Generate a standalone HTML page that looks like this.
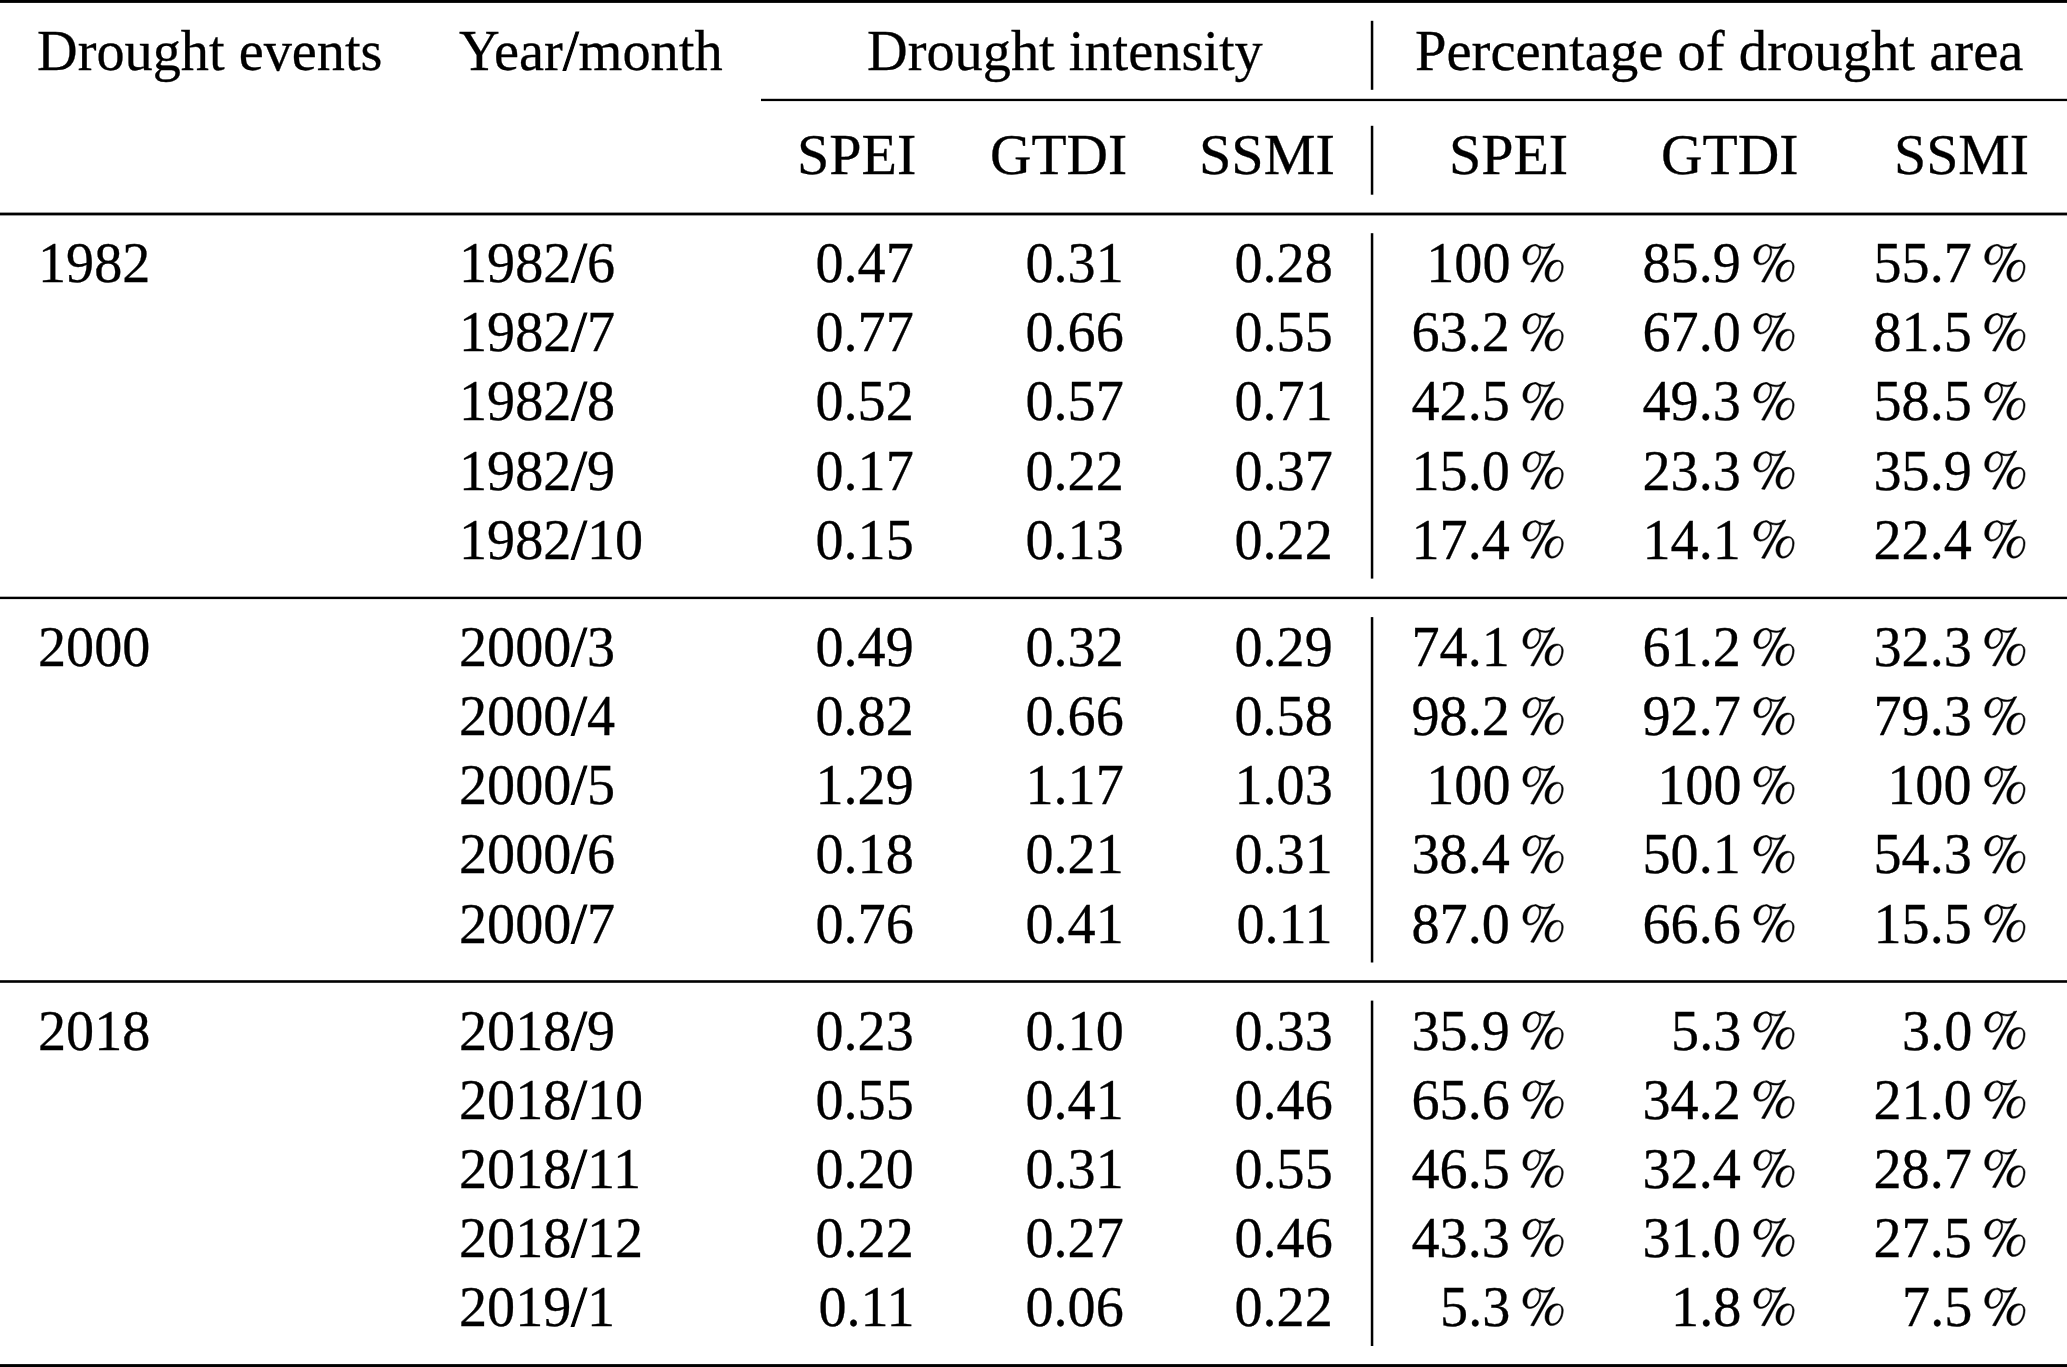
<!DOCTYPE html>
<html><head><meta charset="utf-8"><style>
html,body{margin:0;padding:0;background:#fff;}
#pg{position:relative;width:2067px;height:1367px;overflow:hidden;background:#fff;}
.t{position:absolute;font-family:"Liberation Serif",serif;font-size:57px;line-height:0;height:0;white-space:nowrap;color:#000;transform-origin:0 0;-webkit-text-stroke:0.3px #000;}
.r{text-align:right;transform-origin:100% 0;}
.sl{-webkit-text-stroke:1.1px #000;}

svg{position:absolute;left:0;top:0;}
</style></head><body><div id="pg">
<svg width="2067" height="1367" viewBox="0 0 2067 1367"><defs><path id="pc" stroke="#000" stroke-width="14" stroke-linejoin="round" d="M490,130C578,130 650,220 650,330C650,539 506,710 330,710C226,710 140,611 140,490C140,292 298,130 490,130ZM490,168C361,168 255,326 255,520C255,601 296,668 345,668C492,668 612,511 612,320C612,236 557,168 490,168ZM1110,575C1209,575 1290,658 1290,760C1290,999 1142,1195 960,1195C856,1195 770,1085 770,950C770,744 923,575 1110,575ZM1160,612C1006,612 880,782 880,990C880,1075 923,1145 975,1145C1124,1145 1245,972 1245,760C1245,679 1207,612 1160,612ZM965,118L1050,112L450,1205L362,1192ZM480,128C570,135 610,200 780,205C880,205 960,160 1050,110L1000,155C940,210 880,245 780,248C640,248 590,205 520,172Z"/></defs><g fill="#000">
<use href="#pc" transform="translate(1517.98,239.90) scale(0.03511)"/>
<use href="#pc" transform="translate(1748.88,239.90) scale(0.03511)"/>
<use href="#pc" transform="translate(1979.78,239.90) scale(0.03511)"/>
<use href="#pc" transform="translate(1517.98,308.98) scale(0.03511)"/>
<use href="#pc" transform="translate(1748.88,308.98) scale(0.03511)"/>
<use href="#pc" transform="translate(1979.78,308.98) scale(0.03511)"/>
<use href="#pc" transform="translate(1517.98,378.06) scale(0.03511)"/>
<use href="#pc" transform="translate(1748.88,378.06) scale(0.03511)"/>
<use href="#pc" transform="translate(1979.78,378.06) scale(0.03511)"/>
<use href="#pc" transform="translate(1517.98,447.14) scale(0.03511)"/>
<use href="#pc" transform="translate(1748.88,447.14) scale(0.03511)"/>
<use href="#pc" transform="translate(1979.78,447.14) scale(0.03511)"/>
<use href="#pc" transform="translate(1517.98,516.22) scale(0.03511)"/>
<use href="#pc" transform="translate(1748.88,516.22) scale(0.03511)"/>
<use href="#pc" transform="translate(1979.78,516.22) scale(0.03511)"/>
<rect x="1370.8" y="233.2" width="2.5" height="345.4"/>
<use href="#pc" transform="translate(1517.98,623.80) scale(0.03511)"/>
<use href="#pc" transform="translate(1748.88,623.80) scale(0.03511)"/>
<use href="#pc" transform="translate(1979.78,623.80) scale(0.03511)"/>
<use href="#pc" transform="translate(1517.98,692.88) scale(0.03511)"/>
<use href="#pc" transform="translate(1748.88,692.88) scale(0.03511)"/>
<use href="#pc" transform="translate(1979.78,692.88) scale(0.03511)"/>
<use href="#pc" transform="translate(1517.98,761.96) scale(0.03511)"/>
<use href="#pc" transform="translate(1748.88,761.96) scale(0.03511)"/>
<use href="#pc" transform="translate(1979.78,761.96) scale(0.03511)"/>
<use href="#pc" transform="translate(1517.98,831.04) scale(0.03511)"/>
<use href="#pc" transform="translate(1748.88,831.04) scale(0.03511)"/>
<use href="#pc" transform="translate(1979.78,831.04) scale(0.03511)"/>
<use href="#pc" transform="translate(1517.98,900.12) scale(0.03511)"/>
<use href="#pc" transform="translate(1748.88,900.12) scale(0.03511)"/>
<use href="#pc" transform="translate(1979.78,900.12) scale(0.03511)"/>
<rect x="1370.8" y="617.1" width="2.5" height="345.4"/>
<use href="#pc" transform="translate(1517.98,1007.30) scale(0.03511)"/>
<use href="#pc" transform="translate(1748.88,1007.30) scale(0.03511)"/>
<use href="#pc" transform="translate(1979.78,1007.30) scale(0.03511)"/>
<use href="#pc" transform="translate(1517.98,1076.38) scale(0.03511)"/>
<use href="#pc" transform="translate(1748.88,1076.38) scale(0.03511)"/>
<use href="#pc" transform="translate(1979.78,1076.38) scale(0.03511)"/>
<use href="#pc" transform="translate(1517.98,1145.46) scale(0.03511)"/>
<use href="#pc" transform="translate(1748.88,1145.46) scale(0.03511)"/>
<use href="#pc" transform="translate(1979.78,1145.46) scale(0.03511)"/>
<use href="#pc" transform="translate(1517.98,1214.54) scale(0.03511)"/>
<use href="#pc" transform="translate(1748.88,1214.54) scale(0.03511)"/>
<use href="#pc" transform="translate(1979.78,1214.54) scale(0.03511)"/>
<use href="#pc" transform="translate(1517.98,1283.62) scale(0.03511)"/>
<use href="#pc" transform="translate(1748.88,1283.62) scale(0.03511)"/>
<use href="#pc" transform="translate(1979.78,1283.62) scale(0.03511)"/>
<rect x="1370.8" y="1000.6" width="2.5" height="345.4"/>
<rect x="0" y="0" width="2067" height="2.9"/>
<rect x="1370.8" y="20.8" width="2.5" height="69.0"/>
<rect x="761" y="98.8" width="1306" height="2.3"/>
<rect x="1370.8" y="125.8" width="2.5" height="68.9"/>
<rect x="0" y="212.6" width="2067" height="2.8"/>
<rect x="0" y="596.7" width="2067" height="2.4"/>
<rect x="0" y="980.2" width="2067" height="2.6"/>
<rect x="0" y="1364.1" width="2067" height="2.9"/>
</g></svg>
<div class="t" style="left:37.42px;top:50.90px;transform:scaleX(0.9876)">Drought events</div>
<div class="t" style="left:459.20px;top:50.90px;transform:scaleX(0.9891)">Year<span class="sl">/</span>month</div>
<div class="t" style="left:867.01px;top:50.90px;transform:scaleX(0.9880)">Drought intensity</div>
<div class="t" style="left:1414.81px;top:50.90px;transform:scaleX(0.9934)">Percentage of drought area</div>
<div class="t" style="left:797.34px;top:155.00px;transform:scaleX(1.0179)">SPEI</div>
<div class="t" style="left:989.58px;top:155.00px;transform:scaleX(1.0068)">GTDI</div>
<div class="t" style="left:1198.92px;top:155.00px;transform:scaleX(1.0205)">SSMI</div>
<div class="t" style="left:1448.73px;top:155.00px;transform:scaleX(1.0162)">SPEI</div>
<div class="t" style="left:1661.38px;top:155.00px;transform:scaleX(1.0098)">GTDI</div>
<div class="t" style="left:1893.94px;top:155.00px;transform:scaleX(1.0150)">SSMI</div>
<div class="t" style="left:38.00px;top:263.30px;transform:scaleX(0.9850)">1982</div>
<div class="t" style="left:459.20px;top:263.30px;transform:scaleX(0.9850)">1982<span class="sl">/</span>6</div>
<div class="t r" style="right:1152.80px;top:263.30px;transform:scaleX(0.9850)">0.47</div>
<div class="t r" style="right:943.60px;top:263.30px;transform:scaleX(0.9850)">0.31</div>
<div class="t r" style="right:734.40px;top:263.30px;transform:scaleX(0.9850)">0.28</div>
<div class="t r" style="right:556.90px;top:263.30px;transform:scaleX(0.9850)">100</div>
<div class="t r" style="right:326.00px;top:263.30px;transform:scaleX(0.9850)">85.9</div>
<div class="t r" style="right:95.10px;top:263.30px;transform:scaleX(0.9850)">55.7</div>
<div class="t" style="left:459.20px;top:332.38px;transform:scaleX(0.9850)">1982<span class="sl">/</span>7</div>
<div class="t r" style="right:1152.80px;top:332.38px;transform:scaleX(0.9850)">0.77</div>
<div class="t r" style="right:943.60px;top:332.38px;transform:scaleX(0.9850)">0.66</div>
<div class="t r" style="right:734.40px;top:332.38px;transform:scaleX(0.9850)">0.55</div>
<div class="t r" style="right:556.90px;top:332.38px;transform:scaleX(0.9850)">63.2</div>
<div class="t r" style="right:326.00px;top:332.38px;transform:scaleX(0.9850)">67.0</div>
<div class="t r" style="right:95.10px;top:332.38px;transform:scaleX(0.9850)">81.5</div>
<div class="t" style="left:459.20px;top:401.46px;transform:scaleX(0.9850)">1982<span class="sl">/</span>8</div>
<div class="t r" style="right:1152.80px;top:401.46px;transform:scaleX(0.9850)">0.52</div>
<div class="t r" style="right:943.60px;top:401.46px;transform:scaleX(0.9850)">0.57</div>
<div class="t r" style="right:734.40px;top:401.46px;transform:scaleX(0.9850)">0.71</div>
<div class="t r" style="right:556.90px;top:401.46px;transform:scaleX(0.9850)">42.5</div>
<div class="t r" style="right:326.00px;top:401.46px;transform:scaleX(0.9850)">49.3</div>
<div class="t r" style="right:95.10px;top:401.46px;transform:scaleX(0.9850)">58.5</div>
<div class="t" style="left:459.20px;top:470.54px;transform:scaleX(0.9850)">1982<span class="sl">/</span>9</div>
<div class="t r" style="right:1152.80px;top:470.54px;transform:scaleX(0.9850)">0.17</div>
<div class="t r" style="right:943.60px;top:470.54px;transform:scaleX(0.9850)">0.22</div>
<div class="t r" style="right:734.40px;top:470.54px;transform:scaleX(0.9850)">0.37</div>
<div class="t r" style="right:556.90px;top:470.54px;transform:scaleX(0.9850)">15.0</div>
<div class="t r" style="right:326.00px;top:470.54px;transform:scaleX(0.9850)">23.3</div>
<div class="t r" style="right:95.10px;top:470.54px;transform:scaleX(0.9850)">35.9</div>
<div class="t" style="left:459.20px;top:539.62px;transform:scaleX(0.9850)">1982<span class="sl">/</span>10</div>
<div class="t r" style="right:1152.80px;top:539.62px;transform:scaleX(0.9850)">0.15</div>
<div class="t r" style="right:943.60px;top:539.62px;transform:scaleX(0.9850)">0.13</div>
<div class="t r" style="right:734.40px;top:539.62px;transform:scaleX(0.9850)">0.22</div>
<div class="t r" style="right:556.90px;top:539.62px;transform:scaleX(0.9850)">17.4</div>
<div class="t r" style="right:326.00px;top:539.62px;transform:scaleX(0.9850)">14.1</div>
<div class="t r" style="right:95.10px;top:539.62px;transform:scaleX(0.9850)">22.4</div>
<div class="t" style="left:38.00px;top:647.20px;transform:scaleX(0.9850)">2000</div>
<div class="t" style="left:459.20px;top:647.20px;transform:scaleX(0.9850)">2000<span class="sl">/</span>3</div>
<div class="t r" style="right:1152.80px;top:647.20px;transform:scaleX(0.9850)">0.49</div>
<div class="t r" style="right:943.60px;top:647.20px;transform:scaleX(0.9850)">0.32</div>
<div class="t r" style="right:734.40px;top:647.20px;transform:scaleX(0.9850)">0.29</div>
<div class="t r" style="right:556.90px;top:647.20px;transform:scaleX(0.9850)">74.1</div>
<div class="t r" style="right:326.00px;top:647.20px;transform:scaleX(0.9850)">61.2</div>
<div class="t r" style="right:95.10px;top:647.20px;transform:scaleX(0.9850)">32.3</div>
<div class="t" style="left:459.20px;top:716.28px;transform:scaleX(0.9850)">2000<span class="sl">/</span>4</div>
<div class="t r" style="right:1152.80px;top:716.28px;transform:scaleX(0.9850)">0.82</div>
<div class="t r" style="right:943.60px;top:716.28px;transform:scaleX(0.9850)">0.66</div>
<div class="t r" style="right:734.40px;top:716.28px;transform:scaleX(0.9850)">0.58</div>
<div class="t r" style="right:556.90px;top:716.28px;transform:scaleX(0.9850)">98.2</div>
<div class="t r" style="right:326.00px;top:716.28px;transform:scaleX(0.9850)">92.7</div>
<div class="t r" style="right:95.10px;top:716.28px;transform:scaleX(0.9850)">79.3</div>
<div class="t" style="left:459.20px;top:785.36px;transform:scaleX(0.9850)">2000<span class="sl">/</span>5</div>
<div class="t r" style="right:1152.80px;top:785.36px;transform:scaleX(0.9850)">1.29</div>
<div class="t r" style="right:943.60px;top:785.36px;transform:scaleX(0.9850)">1.17</div>
<div class="t r" style="right:734.40px;top:785.36px;transform:scaleX(0.9850)">1.03</div>
<div class="t r" style="right:556.90px;top:785.36px;transform:scaleX(0.9850)">100</div>
<div class="t r" style="right:326.00px;top:785.36px;transform:scaleX(0.9850)">100</div>
<div class="t r" style="right:95.10px;top:785.36px;transform:scaleX(0.9850)">100</div>
<div class="t" style="left:459.20px;top:854.44px;transform:scaleX(0.9850)">2000<span class="sl">/</span>6</div>
<div class="t r" style="right:1152.80px;top:854.44px;transform:scaleX(0.9850)">0.18</div>
<div class="t r" style="right:943.60px;top:854.44px;transform:scaleX(0.9850)">0.21</div>
<div class="t r" style="right:734.40px;top:854.44px;transform:scaleX(0.9850)">0.31</div>
<div class="t r" style="right:556.90px;top:854.44px;transform:scaleX(0.9850)">38.4</div>
<div class="t r" style="right:326.00px;top:854.44px;transform:scaleX(0.9850)">50.1</div>
<div class="t r" style="right:95.10px;top:854.44px;transform:scaleX(0.9850)">54.3</div>
<div class="t" style="left:459.20px;top:923.52px;transform:scaleX(0.9850)">2000<span class="sl">/</span>7</div>
<div class="t r" style="right:1152.80px;top:923.52px;transform:scaleX(0.9850)">0.76</div>
<div class="t r" style="right:943.60px;top:923.52px;transform:scaleX(0.9850)">0.41</div>
<div class="t r" style="right:734.40px;top:923.52px;transform:scaleX(0.9850)">0.11</div>
<div class="t r" style="right:556.90px;top:923.52px;transform:scaleX(0.9850)">87.0</div>
<div class="t r" style="right:326.00px;top:923.52px;transform:scaleX(0.9850)">66.6</div>
<div class="t r" style="right:95.10px;top:923.52px;transform:scaleX(0.9850)">15.5</div>
<div class="t" style="left:38.00px;top:1030.70px;transform:scaleX(0.9850)">2018</div>
<div class="t" style="left:459.20px;top:1030.70px;transform:scaleX(0.9850)">2018<span class="sl">/</span>9</div>
<div class="t r" style="right:1152.80px;top:1030.70px;transform:scaleX(0.9850)">0.23</div>
<div class="t r" style="right:943.60px;top:1030.70px;transform:scaleX(0.9850)">0.10</div>
<div class="t r" style="right:734.40px;top:1030.70px;transform:scaleX(0.9850)">0.33</div>
<div class="t r" style="right:556.90px;top:1030.70px;transform:scaleX(0.9850)">35.9</div>
<div class="t r" style="right:326.00px;top:1030.70px;transform:scaleX(0.9850)">5.3</div>
<div class="t r" style="right:95.10px;top:1030.70px;transform:scaleX(0.9850)">3.0</div>
<div class="t" style="left:459.20px;top:1099.78px;transform:scaleX(0.9850)">2018<span class="sl">/</span>10</div>
<div class="t r" style="right:1152.80px;top:1099.78px;transform:scaleX(0.9850)">0.55</div>
<div class="t r" style="right:943.60px;top:1099.78px;transform:scaleX(0.9850)">0.41</div>
<div class="t r" style="right:734.40px;top:1099.78px;transform:scaleX(0.9850)">0.46</div>
<div class="t r" style="right:556.90px;top:1099.78px;transform:scaleX(0.9850)">65.6</div>
<div class="t r" style="right:326.00px;top:1099.78px;transform:scaleX(0.9850)">34.2</div>
<div class="t r" style="right:95.10px;top:1099.78px;transform:scaleX(0.9850)">21.0</div>
<div class="t" style="left:459.20px;top:1168.86px;transform:scaleX(0.9850)">2018<span class="sl">/</span>11</div>
<div class="t r" style="right:1152.80px;top:1168.86px;transform:scaleX(0.9850)">0.20</div>
<div class="t r" style="right:943.60px;top:1168.86px;transform:scaleX(0.9850)">0.31</div>
<div class="t r" style="right:734.40px;top:1168.86px;transform:scaleX(0.9850)">0.55</div>
<div class="t r" style="right:556.90px;top:1168.86px;transform:scaleX(0.9850)">46.5</div>
<div class="t r" style="right:326.00px;top:1168.86px;transform:scaleX(0.9850)">32.4</div>
<div class="t r" style="right:95.10px;top:1168.86px;transform:scaleX(0.9850)">28.7</div>
<div class="t" style="left:459.20px;top:1237.94px;transform:scaleX(0.9850)">2018<span class="sl">/</span>12</div>
<div class="t r" style="right:1152.80px;top:1237.94px;transform:scaleX(0.9850)">0.22</div>
<div class="t r" style="right:943.60px;top:1237.94px;transform:scaleX(0.9850)">0.27</div>
<div class="t r" style="right:734.40px;top:1237.94px;transform:scaleX(0.9850)">0.46</div>
<div class="t r" style="right:556.90px;top:1237.94px;transform:scaleX(0.9850)">43.3</div>
<div class="t r" style="right:326.00px;top:1237.94px;transform:scaleX(0.9850)">31.0</div>
<div class="t r" style="right:95.10px;top:1237.94px;transform:scaleX(0.9850)">27.5</div>
<div class="t" style="left:459.20px;top:1307.02px;transform:scaleX(0.9850)">2019<span class="sl">/</span>1</div>
<div class="t r" style="right:1152.80px;top:1307.02px;transform:scaleX(0.9850)">0.11</div>
<div class="t r" style="right:943.60px;top:1307.02px;transform:scaleX(0.9850)">0.06</div>
<div class="t r" style="right:734.40px;top:1307.02px;transform:scaleX(0.9850)">0.22</div>
<div class="t r" style="right:556.90px;top:1307.02px;transform:scaleX(0.9850)">5.3</div>
<div class="t r" style="right:326.00px;top:1307.02px;transform:scaleX(0.9850)">1.8</div>
<div class="t r" style="right:95.10px;top:1307.02px;transform:scaleX(0.9850)">7.5</div>
</div></body></html>
